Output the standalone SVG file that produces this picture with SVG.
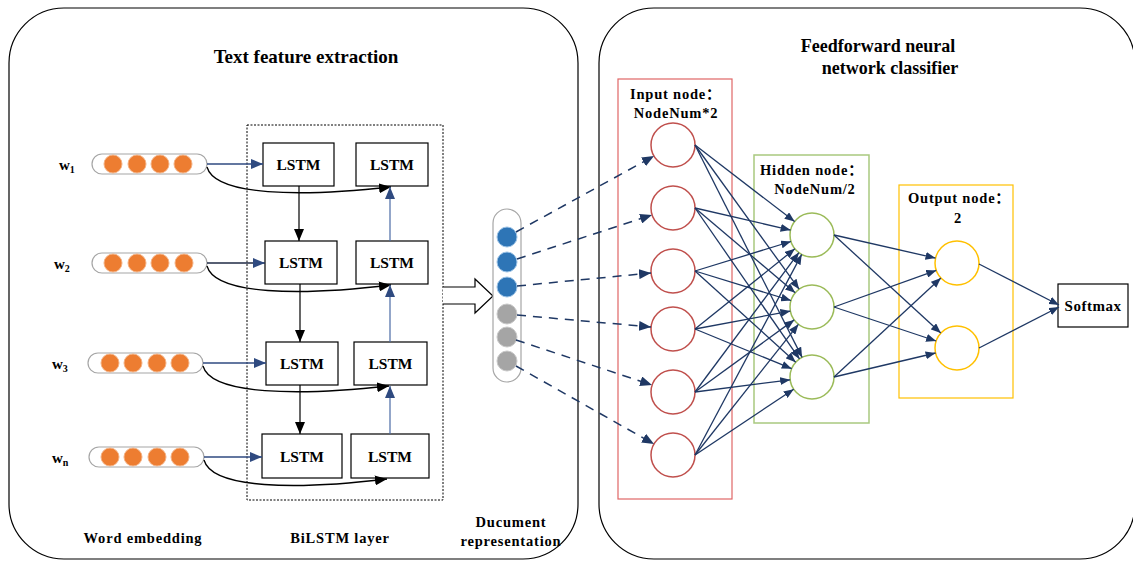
<svg xmlns="http://www.w3.org/2000/svg" width="1133" height="562" viewBox="0 0 1133 562">
<defs>
<marker id="ah" viewBox="0 0 12 10" refX="12" refY="5" markerWidth="12" markerHeight="10" markerUnits="userSpaceOnUse" orient="auto"><path d="M0,0 L12,5 L0,10 z" fill="#1F3864"/></marker>
<marker id="ahs" viewBox="0 0 10 8" refX="10" refY="4" markerWidth="10" markerHeight="8" markerUnits="userSpaceOnUse" orient="auto"><path d="M0,0 L10,4 L0,8 z" fill="#1F3864"/></marker>
<marker id="ahk" viewBox="0 0 12 10" refX="12" refY="5" markerWidth="12" markerHeight="10" markerUnits="userSpaceOnUse" orient="auto"><path d="M0,0 L12,5 L0,10 z" fill="#000"/></marker>
<marker id="ahb" viewBox="0 0 12 10" refX="12" refY="5" markerWidth="12" markerHeight="10" markerUnits="userSpaceOnUse" orient="auto"><path d="M0,0 L12,5 L0,10 z" fill="#2F4A80"/></marker>
</defs>
<style>
text{font-family:"Liberation Serif","Times New Roman","Noto Sans CJK SC",serif;font-weight:bold;fill:#000}
.title{font-size:18px}
.lbl{font-size:14.5px;letter-spacing:0.8px}
.lstm{font-size:15.5px}
.w{font-size:15px}
.box{fill:#fff;stroke:#000;stroke-width:1.2}
.pill{fill:#fff;stroke:#A6A6A6;stroke-width:1.2}
.emb{fill:#ED7D31;stroke:#F4B183;stroke-width:1}
.net{stroke:#1F3864;stroke-width:1.3;fill:none;marker-end:url(#ahs)}
.dash{stroke:#1F3864;stroke-width:1.5;fill:none;stroke-dasharray:9,7;marker-end:url(#ah)}
.curve{stroke:#000;stroke-width:1.3;fill:none;marker-end:url(#ahk)}
.hb{stroke:#2F4A80;stroke-width:1.6;fill:none;marker-end:url(#ahb)}
.vk{stroke:#000;stroke-width:1.2;fill:none;marker-end:url(#ahk)}
.vb{stroke:#4A6BA5;stroke-width:1.2;fill:none;marker-end:url(#ahb)}
.in{fill:#fff;stroke:#C0504D;stroke-width:1.5}
.hid{fill:#fff;stroke:#9BBB59;stroke-width:1.5}
.out{fill:#fff;stroke:#FFC000;stroke-width:1.5}
</style>

<g id="panel-left">
<rect x="9" y="8" width="569" height="551" rx="55" ry="55" fill="none" stroke="#000" stroke-width="1.2"/>
<text class="title" x="306" y="63" text-anchor="middle" style="font-size:19px">Text feature extraction</text>
</g>
<g id="panel-right">
<rect x="599" y="8" width="536" height="551" rx="55" ry="55" fill="none" stroke="#000" stroke-width="1.2"/>
<text class="title" x="878" y="52" text-anchor="middle">Feedforward neural</text>
<text class="title" x="890" y="74" text-anchor="middle">network classifier</text>
</g>

<g id="bilstm-box">
<rect x="247" y="125" width="196" height="375" fill="none" stroke="#000" stroke-width="1" stroke-dasharray="2,1.5"/>
</g>

<g id="embeddings">
<g id="w1">
<text class="w" x="59" y="170">w<tspan font-size="10" dy="3">1</tspan></text>
<rect class="pill" x="92" y="154" width="115" height="20" rx="10"/>
<circle class="emb" cx="113" cy="164" r="9"/><circle class="emb" cx="137" cy="164" r="9"/><circle class="emb" cx="160" cy="164" r="9"/><circle class="emb" cx="183" cy="164" r="9"/>
</g>
<g id="w2">
<text class="w" x="54" y="269">w<tspan font-size="10" dy="3">2</tspan></text>
<rect class="pill" x="92" y="253" width="115" height="20" rx="10"/>
<circle class="emb" cx="113" cy="263" r="9"/><circle class="emb" cx="137" cy="263" r="9"/><circle class="emb" cx="160" cy="263" r="9"/><circle class="emb" cx="184" cy="263" r="9"/>
</g>
<g id="w3">
<text class="w" x="52" y="369">w<tspan font-size="10" dy="3">3</tspan></text>
<rect class="pill" x="88" y="353" width="115" height="20" rx="10"/>
<circle class="emb" cx="110" cy="363" r="9"/><circle class="emb" cx="133" cy="363" r="9"/><circle class="emb" cx="157" cy="363" r="9"/><circle class="emb" cx="180" cy="363" r="9"/>
</g>
<g id="wn">
<text class="w" x="52" y="463">w<tspan font-size="10" dy="3">n</tspan></text>
<rect class="pill" x="89" y="447" width="115" height="20" rx="10"/>
<circle class="emb" cx="110" cy="457" r="9"/><circle class="emb" cx="133" cy="457" r="9"/><circle class="emb" cx="157" cy="457" r="9"/><circle class="emb" cx="180" cy="457" r="9"/>
</g>
</g>

<g id="lstm-nodes">
<g id="lstm-f1"><rect class="box" x="263" y="143" width="71" height="43"/><text class="lstm" x="298.5" y="170" text-anchor="middle">LSTM</text></g>
<g id="lstm-b1"><rect class="box" x="356" y="143" width="72" height="43"/><text class="lstm" x="392" y="170" text-anchor="middle">LSTM</text></g>
<g id="lstm-f2"><rect class="box" x="265" y="241" width="72" height="43"/><text class="lstm" x="301" y="268" text-anchor="middle">LSTM</text></g>
<g id="lstm-b2"><rect class="box" x="356" y="241" width="72" height="43"/><text class="lstm" x="392" y="268" text-anchor="middle">LSTM</text></g>
<g id="lstm-f3"><rect class="box" x="266" y="342" width="72" height="43"/><text class="lstm" x="302" y="369" text-anchor="middle">LSTM</text></g>
<g id="lstm-b3"><rect class="box" x="354" y="342" width="73" height="43"/><text class="lstm" x="390.5" y="369" text-anchor="middle">LSTM</text></g>
<g id="lstm-f4"><rect class="box" x="262" y="434" width="80" height="44"/><text class="lstm" x="302" y="462" text-anchor="middle">LSTM</text></g>
<g id="lstm-b4"><rect class="box" x="351" y="434" width="78" height="44"/><text class="lstm" x="390" y="462" text-anchor="middle">LSTM</text></g>
</g>

<g id="doc-arrow">
<path d="M443,287 H475 V279 L493,296 L475,313 V304 H443" fill="#fff" stroke="#000" stroke-width="1.2"/>
</g>

<g id="document">
<rect class="pill" x="493" y="209" width="28" height="173" rx="14"/>
<circle cx="507" cy="237" r="10" fill="#2E75B6" stroke="#9DC3E6" stroke-width="1"/>
<circle cx="507" cy="262" r="10" fill="#2E75B6" stroke="#9DC3E6" stroke-width="1"/>
<circle cx="507" cy="287" r="10" fill="#2E75B6" stroke="#9DC3E6" stroke-width="1"/>
<circle cx="507" cy="314" r="10" fill="#A5A5A5" stroke="#C9C9C9" stroke-width="1"/>
<circle cx="507" cy="337" r="10" fill="#A5A5A5" stroke="#C9C9C9" stroke-width="1"/>
<circle cx="507" cy="361" r="10" fill="#A5A5A5" stroke="#C9C9C9" stroke-width="1"/>
</g>

<g id="input-layer">
<rect x="618" y="79" width="114" height="420" fill="none" stroke="#E06666" stroke-width="1.2"/>
<text class="lbl" x="630" y="99">Input node：</text>
<text class="lbl" x="676" y="118" text-anchor="middle">NodeNum*2</text>
<circle class="in" cx="673" cy="145" r="22"/>
<circle class="in" cx="673" cy="208" r="22"/>
<circle class="in" cx="673" cy="271" r="22"/>
<circle class="in" cx="673" cy="329" r="22"/>
<circle class="in" cx="673" cy="392" r="22"/>
<circle class="in" cx="673" cy="455" r="22"/>
</g>

<g id="hidden-layer">
<rect x="754" y="155" width="115" height="268" fill="none" stroke="#A9C97F" stroke-width="1.5"/>
<text class="lbl" x="760" y="175">Hidden node：</text>
<text class="lbl" x="815" y="194" text-anchor="middle">NodeNum/2</text>
<circle class="hid" cx="812" cy="235" r="22"/>
<circle class="hid" cx="812" cy="307" r="22"/>
<circle class="hid" cx="812" cy="377" r="22"/>
</g>

<g id="output-layer">
<rect x="899" y="185" width="114" height="213" fill="none" stroke="#FFC000" stroke-width="1.2"/>
<text class="lbl" x="908" y="203">Output node：</text>
<text class="lbl" x="958" y="223" text-anchor="middle">2</text>
<circle class="out" cx="957" cy="263" r="22"/>
<circle class="out" cx="957" cy="348" r="22"/>
</g>

<g id="softmax">
<rect class="box" x="1058" y="284" width="70" height="43"/>
<text class="lstm" x="1093" y="311" text-anchor="middle" style="font-size:15px;letter-spacing:0.5px">Softmax</text>
</g>

<g id="captions">
<text class="lbl" x="143" y="543" text-anchor="middle">Word embedding</text>
<text class="lbl" x="340" y="543" text-anchor="middle">BiLSTM layer</text>
<text class="lbl" x="511" y="527" text-anchor="middle">Ducument</text>
<text class="lbl" x="511" y="546" text-anchor="middle">representation</text>
</g>

<g id="connectors">
<path class="hb" d="M207,164 H263"/>
<path class="hb" d="M207,263 H265" style="stroke:#1F2A44"/>
<path class="hb" d="M203,363 H266"/>
<path class="hb" d="M204,457 H262"/>
<path class="curve" d="M207,167 C215,196 300,197 391,187"/>
<path class="curve" d="M207,266 C215,295 300,296 391,285"/>
<path class="curve" d="M203,366 C211,395 298,396 389,386"/>
<path class="curve" d="M204,460 C212,489 296,490 387,479"/>
<path class="vk" d="M299,186 V241"/>
<path class="vk" d="M300,284 V342"/>
<path class="vk" d="M300,385 V434"/>
<path class="vb" d="M390,241 V187"/>
<path class="vb" d="M390,342 V285"/>
<path class="vb" d="M390,434 V386"/>

<path class="dash" d="M516,232 L654,156"/>
<path class="dash" d="M517,259 L652,215"/>
<path class="dash" d="M517,286 L651,273"/>
<path class="dash" d="M517,315 L651,327"/>
<path class="dash" d="M516,340 L652,385"/>
<path class="dash" d="M516,366 L654,444"/>

<path class="net" d="M695,145 L794.6,221.6"/>
<path class="net" d="M695,145 L799.1,289.2"/>
<path class="net" d="M695,145 L802.1,357.4"/>
<path class="net" d="M695,208 L790.6,230.1"/>
<path class="net" d="M695,208 L795.2,292.8"/>
<path class="net" d="M695,208 L799.5,358.9"/>
<path class="net" d="M695,271 L791,241.5"/>
<path class="net" d="M695,271 L791,300.5"/>
<path class="net" d="M695,271 L795.7,362.2"/>
<path class="net" d="M695,329 L794.9,248.8"/>
<path class="net" d="M695,329 L790.4,311.1"/>
<path class="net" d="M695,329 L791.7,368.7"/>
<path class="net" d="M695,392 L798.9,252.6"/>
<path class="net" d="M695,392 L794.2,319.9"/>
<path class="net" d="M695,392 L790.2,379.8"/>
<path class="net" d="M695,455 L801.7,254.4"/>
<path class="net" d="M695,455 L798.4,324.3"/>
<path class="net" d="M695,455 L793.7,389.2"/>

<path class="net" d="M834,235 L935.5,258.1"/>
<path class="net" d="M834,235 L940.8,333.1"/>
<path class="net" d="M834,307 L936.3,270.4"/>
<path class="net" d="M834,307 L936.1,341"/>
<path class="net" d="M834,377 L940.9,278"/>
<path class="net" d="M834,377 L935.6,353"/>

<path class="net" d="M979,264 L1059,305"/>
<path class="net" d="M979,348 L1059,307"/>
</g>
</svg>
